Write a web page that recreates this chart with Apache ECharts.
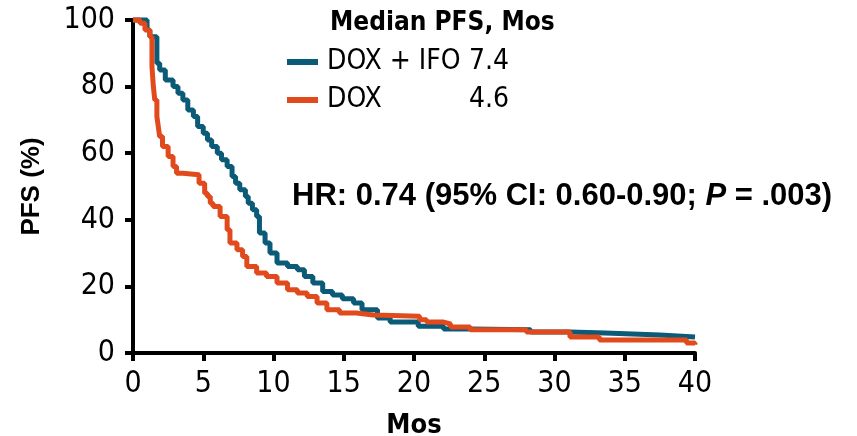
<!DOCTYPE html>
<html>
<head>
<meta charset="utf-8">
<script src="https://cdn.jsdelivr.net/npm/echarts@6/dist/echarts.min.js"></script>
<style>
html, body { margin: 0; padding: 0; background: #fff; }
#chart { width: 857px; height: 436px; }
</style>
</head>
<body>
<div id="chart"></div>
<script>
var narrow = '"Liberation Sans Narrow", "DejaVu Sans Condensed", "Noto Sans", sans-serif';
var arial = '"Liberation Sans", Arial, sans-serif';

// DOX + IFO arm
var monthsIfo = [0, 1.0, 1.2, 1.7, 1.9, 2.3, 2.85, 3.2, 3.55, 3.9, 4.3, 4.6, 5.0, 5.3, 5.6, 6.0, 6.3, 6.7, 7.05, 7.3,
    7.6, 8.0, 8.2, 8.5, 8.8, 9.0, 9.4, 9.75, 10.25, 11.0, 11.7, 12.2, 12.8, 13.5, 14.2, 14.9, 15.7, 16.3, 17.4, 18.3,
    20.3, 22.1, 24.0, 28.3, 31.1, 33.6, 37.5, 40];
var pfsIfo = [100, 97, 95, 87, 85, 82, 80, 78, 76, 73, 71, 68, 66, 64, 62, 60, 58, 56, 53, 51,
    49, 47, 45, 43, 41, 36, 33, 30, 27, 26, 25, 23, 21, 18.5, 17.4, 16.3, 15, 13, 10.5, 9.3,
    8, 7.2, 7.0, 6.3, 6.0, 5.4, 4.8, 4.8];

// DOX arm
var monthsDox = [0, 0.5, 0.85, 1.2, 1.35, 1.45, 1.55, 1.7, 1.8, 1.9, 2.1, 2.5, 2.85, 3.1, 3.55, 4.7, 5.1, 5.3, 5.5, 5.7,
    6.2, 6.7, 6.9, 7.4, 7.8, 8.1, 8.8, 9.5, 10.25, 11.0, 11.7, 12.4, 13.1, 13.8, 14.7, 15.9, 17.1, 20.4, 20.9, 22.1,
    22.6, 24.0, 28.0, 31.1, 33.2, 39.4, 40];
var pfsDox = [100, 99, 97, 95, 86, 80, 76, 71, 68, 65, 62, 59, 56, 54, 53.5, 51, 48, 47, 45, 44,
    41, 37, 33, 31, 29, 26, 24, 23, 21, 19, 18, 17, 15, 13, 12, 11.4, 11, 10, 9.3, 8.7,
    7.8, 7, 6.3, 4.8, 3.9, 3, 2.5];

var seriesNames = ['DOX + IFO', 'DOX'];
var medians = ['7.4', '4.6'];
var colors = ['#0b5a77', '#e14a1d'];

function pairs(xs, ys) {
    return xs.map(function (x, i) { return [x, ys[i]]; });
}

var chart = echarts.init(document.getElementById('chart'));
chart.setOption({
    animation: false,
    backgroundColor: '#fff',
    color: colors,
    grid: { left: 133, right: 162, top: 20, bottom: 83, outerBoundsMode: 'none', containLabel: false },
    title: {
        text: '{a|HR: 0.74 (95% CI: 0.60-0.90; }{i|P}{a| = .003)}',
        left: 287,
        top: 176,
        textStyle: {
            rich: {
                a: { fontFamily: arial, fontWeight: 'bold', fontSize: 31, color: '#000' },
                i: { fontFamily: arial, fontWeight: 'bold', fontStyle: 'italic', fontSize: 31, color: '#000' }
            }
        }
    },
    legend: {
        orient: 'vertical',
        left: 282,
        top: 43,
        itemGap: 10,
        itemWidth: 31,
        itemHeight: 6,
        icon: 'rect',
        data: seriesNames,
        formatter: function (name) {
            return '{n|' + name + '}{v|' + medians[seriesNames.indexOf(name)] + '}';
        },
        textStyle: {
            rich: {
                n: { width: 142, padding: [0, 0, 0, 4], fontFamily: narrow, fontSize: 28, color: '#000' },
                v: { fontFamily: narrow, fontSize: 28, color: '#000' }
            }
        }
    },
    graphic: [{
        type: 'text',
        left: 330,
        top: 10,
        style: { text: 'Median PFS, Mos', font: 'bold 26px ' + narrow, fill: '#000' }
    }],
    xAxis: {
        type: 'value',
        min: 0,
        max: 40,
        interval: 5,
        name: 'Mos',
        nameLocation: 'middle',
        nameGap: 59,
        nameTextStyle: { fontFamily: narrow, fontWeight: 'bold', fontSize: 27, color: '#000' },
        axisLine: { lineStyle: { color: '#000', width: 4 } },
        axisTick: { length: 8, lineStyle: { color: '#000', width: 4 } },
        axisLabel: { fontFamily: narrow, fontSize: 30, color: '#000', margin: 16 },
        splitLine: { show: false }
    },
    yAxis: {
        type: 'value',
        min: 0,
        max: 100,
        interval: 20,
        name: 'PFS (%)',
        nameLocation: 'middle',
        nameGap: 88,
        nameTextStyle: { fontFamily: arial, fontWeight: 'bold', fontSize: 26, color: '#000' },
        axisLine: { show: true, lineStyle: { color: '#000', width: 4 } },
        axisTick: { show: true, length: 8, lineStyle: { color: '#000', width: 4 } },
        axisLabel: { fontFamily: narrow, fontSize: 30, color: '#000', margin: 18 },
        splitLine: { show: false }
    },
    series: [
        {
            name: seriesNames[0],
            type: 'line',
            step: 'end',
            showSymbol: false,
            symbol: 'none',
            clip: false,
            lineStyle: { width: 5, color: colors[0] },
            data: pairs(monthsIfo, pfsIfo)
        },
        {
            name: seriesNames[1],
            type: 'line',
            step: 'end',
            showSymbol: false,
            symbol: 'none',
            clip: false,
            lineStyle: { width: 5, color: colors[1] },
            data: pairs(monthsDox, pfsDox)
        }
    ]
});
</script>
</body>
</html>
